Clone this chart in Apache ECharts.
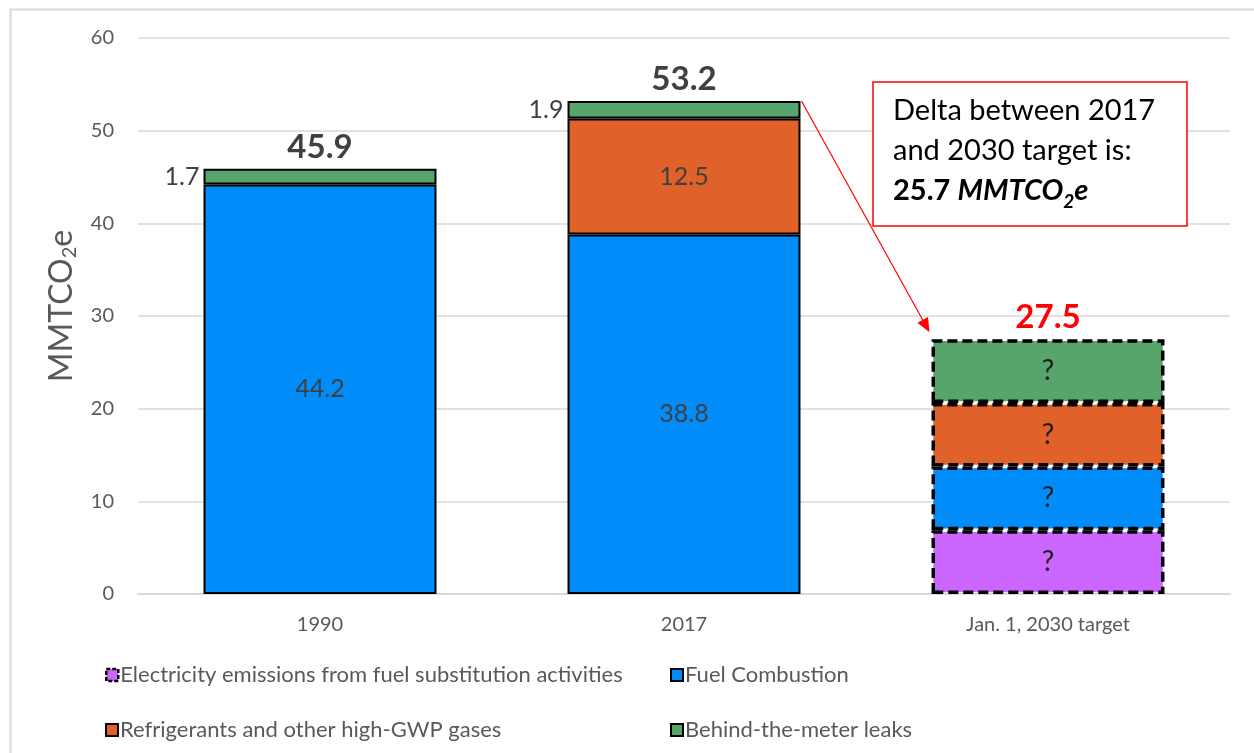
<!DOCTYPE html>
<html>
<head>
<meta charset="utf-8">
<script src="https://cdn.jsdelivr.net/npm/echarts@6/dist/echarts.min.js"></script>
<style>
  html, body { margin: 0; padding: 0; background: #fff; }
  #main { width: 1254px; height: 753px; }
</style>
</head>
<body>
<div id="main"></div>
<script>
// data
var categories = ['1990', '2017', 'Jan. 1, 2030 target'];
var electricity = ['-', '-', 6.875];
var fuelCombustion = [44.2, 38.8, 6.875];
var refrigerants = ['-', 12.5, 6.875];
var leaks = [1.7, 1.9, 6.875];
var totals = [45.9, 53.2, 27.5];
var yTicks = { min: 0, max: 60, interval: 10 };

var FONT = 'Lato, "Open Sans", sans-serif';
var GREY = '#595959', DARK = '#404040';
var colors = {
    elec: '#CB66FF',
    fuel: '#008CF9',
    refr: '#E06129',
    leak: '#57A46D'
};

// last category is the "target" bar: dashed borders and "?" labels
function buildData(values, sideLabel) {
    return values.map(function (v, i) {
        if (v === '-') return '-';
        var item = { value: v };
        if (i === categories.length - 1) {
            item.itemStyle = { borderType: [10, 5], borderWidth: 3.5, borderColor: '#000' };
            item.label = {
                show: true, formatter: '?', position: 'inside',
                color: '#1a1a1a', fontFamily: FONT, fontSize: 28
            };
        } else if (sideLabel) {
            item.label = { show: true, position: 'left', distance: 4 };
        }
        return item;
    });
}

function barSeries(name, values, color, sideLabel) {
    return {
        name: name,
        type: 'bar',
        stack: 'total',
        barWidth: '64%',
        itemStyle: { color: color, borderColor: '#000', borderWidth: 2 },
        label: {
            show: !sideLabel,
            position: 'inside',
            color: DARK,
            fontFamily: FONT,
            fontSize: 25
        },
        emphasis: { disabled: true },
        data: buildData(values, sideLabel)
    };
}

function legendAt(left, top, item) {
    return {
        left: left, top: top,
        itemWidth: 12, itemHeight: 12,
        icon: 'rect',
        textStyle: { color: GREY, fontSize: 22, fontFamily: FONT, padding: [0, 0, 0, -3] },
        data: [item]
    };
}

var myChart = echarts.init(document.getElementById('main'));

var option = {
    backgroundColor: '#fff',
    animation: false,
    grid: { left: 138, right: 24, top: 38, bottom: 159 },
    legend: [
        legendAt(100, 659, { name: 'Electricity emissions from fuel substitution activities', itemStyle: { borderType: [4, 2], borderWidth: 2.5 } }),
        legendAt(665, 659, { name: 'Fuel Combustion' }),
        legendAt(100, 714, { name: 'Refrigerants and other high-GWP gases' }),
        legendAt(665, 714, { name: 'Behind-the-meter leaks' })
    ],
    xAxis: {
        type: 'category',
        data: categories,
        axisLine: { lineStyle: { color: '#d9d9d9', width: 2 } },
        axisTick: { show: false },
        axisLabel: { color: GREY, fontSize: 20, fontFamily: FONT, margin: 21 }
    },
    yAxis: {
        type: 'value',
        min: yTicks.min, max: yTicks.max, interval: yTicks.interval,
        name: '{a|MMTCO}{s|2}{a|e}',
        nameLocation: 'middle',
        nameGap: 54,
        nameTextStyle: {
            padding: [0, 0, 0, 20],
            rich: {
                a: { fontSize: 32, color: GREY, fontFamily: FONT, lineHeight: 36 },
                s: { fontSize: 20, color: GREY, fontFamily: FONT, verticalAlign: 'bottom', lineHeight: 36, padding: [13, 0, 0, 0] }
            }
        },
        axisLine: { show: false },
        axisTick: { show: false },
        axisLabel: { color: GREY, fontSize: 20, fontFamily: FONT, margin: 24 },
        splitLine: { lineStyle: { color: '#d9d9d9', width: 1.5 } }
    },
    series: [
        barSeries('Electricity emissions from fuel substitution activities', electricity, colors.elec),
        barSeries('Fuel Combustion', fuelCombustion, colors.fuel),
        barSeries('Refrigerants and other high-GWP gases', refrigerants, colors.refr),
        barSeries('Behind-the-meter leaks', leaks, colors.leak, true),
        {
            // zero-height bar on top of the stack carrying the total
            name: 'total',
            type: 'bar',
            stack: 'total',
            barWidth: '64%',
            itemStyle: { color: 'transparent', borderWidth: 0 },
            label: {
                show: true,
                position: 'top',
                distance: 5,
                fontFamily: FONT,
                fontSize: 33,
                fontWeight: 'bold',
                color: DARK,
                formatter: function (p) { return totals[p.dataIndex].toFixed(1); }
            },
            emphasis: { disabled: true },
            data: totals.map(function (t, i) {
                return i === totals.length - 1 ? { value: 0, label: { color: '#FF0000' } } : 0;
            })
        }
    ]
};

myChart.setOption(option);

// annotation: arrow from the 2017 bar corner to the target bar, plus the callout box
var c1 = myChart.convertToPixel({ gridIndex: 0 }, [1, totals[1]]);
var c2 = myChart.convertToPixel({ gridIndex: 0 }, [2, totals[2]]);
var halfBar = (c2[0] - c1[0]) * 0.32;
var start = [c1[0] + halfBar + 1, c1[1]];
var tip = [c2[0] - halfBar - 2, c2[1] - 7];
var dx = tip[0] - start[0], dy = tip[1] - start[1];
var len = Math.sqrt(dx * dx + dy * dy);
var ux = dx / len, uy = dy / len;
var headLen = 14, headW = 6;
var base = [tip[0] - ux * headLen, tip[1] - uy * headLen];

myChart.setOption({
    graphic: [
        {
            type: 'rect',
            shape: { x: 10.5, y: 9.5, width: 1400, height: 900 },
            style: { fill: 'none', stroke: '#d9d9d9', lineWidth: 2 },
            silent: true
        },
        {
            type: 'line',
            shape: { x1: start[0], y1: start[1], x2: base[0], y2: base[1] },
            style: { stroke: '#FF0000', lineWidth: 1.2 },
            z: 10
        },
        {
            type: 'polygon',
            shape: {
                points: [
                    tip,
                    [base[0] - uy * headW, base[1] + ux * headW],
                    [base[0] + uy * headW, base[1] - ux * headW]
                ]
            },
            style: { fill: '#FF0000' },
            z: 10
        },
        {
            type: 'rect',
            shape: { x: 873, y: 82, width: 314, height: 144 },
            style: { fill: '#fff', stroke: '#FF0000', lineWidth: 1.5 },
            z: 11
        },
        {
            type: 'text',
            x: 893, y: 91,
            z: 12,
            style: {
                text: '{n|Delta between 2017}\n{n|and 2030 target is:}\n{b|25.7 }{bi|MMTCO}{sub|2}{bi|e}',
                rich: {
                    n: { fontSize: 29, fontFamily: FONT, fill: '#000', lineHeight: 40 },
                    b: { fontSize: 29, fontFamily: FONT, fill: '#000', fontWeight: 'bold', lineHeight: 40 },
                    bi: { fontSize: 29, fontFamily: FONT, fill: '#000', fontWeight: 'bold', fontStyle: 'italic', lineHeight: 40 },
                    sub: { fontSize: 19, fontFamily: FONT, fill: '#000', fontWeight: 'bold', fontStyle: 'italic', lineHeight: 40, verticalAlign: 'bottom', padding: [15, 0, 0, 0] }
                }
            }
        }
    ]
});
</script>
</body>
</html>
